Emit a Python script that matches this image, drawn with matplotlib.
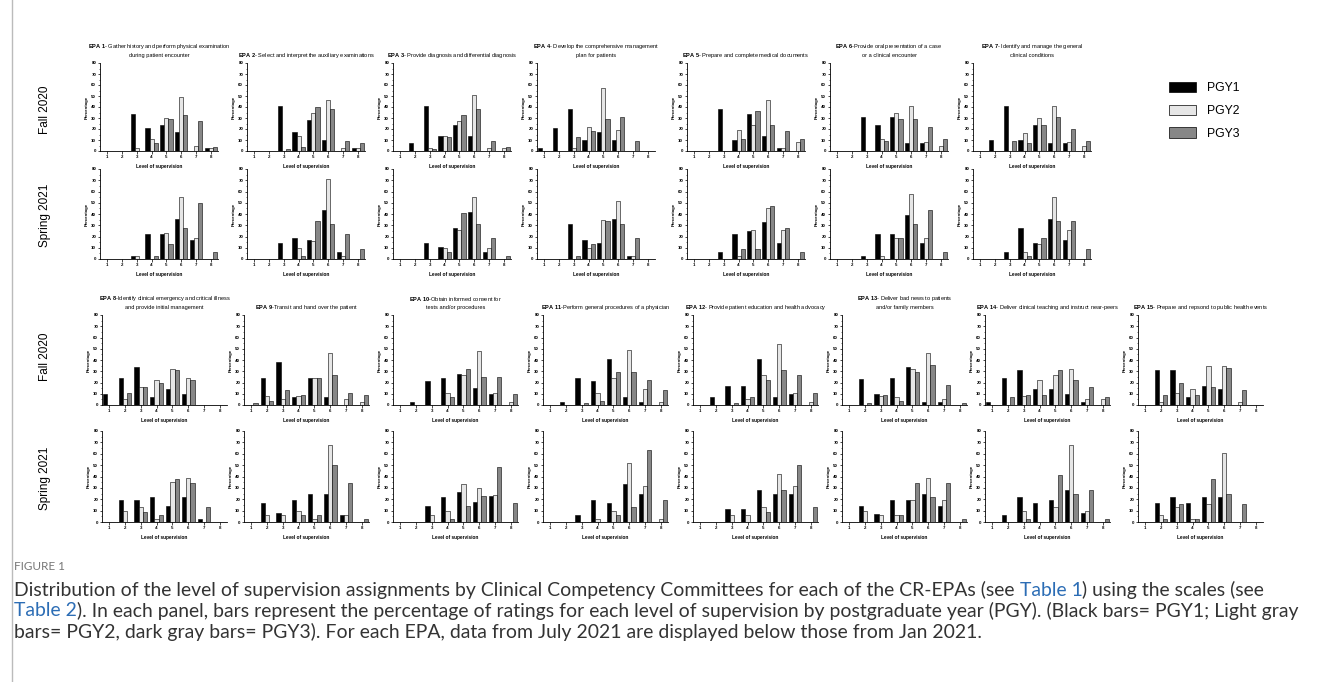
import numpy as np
import matplotlib.pyplot as plt
from matplotlib.patches import Patch
from matplotlib.lines import Line2D

plt.rcParams['font.family'] = ['Liberation Sans', 'DejaVu Sans']
plt.rcParams['mathtext.fontset'] = 'custom'
plt.rcParams['mathtext.rm'] = 'Liberation Sans'
plt.rcParams['mathtext.bf'] = 'Liberation Sans:bold'

# Level of supervision 1..8
levels = [1, 2, 3, 4, 5, 6, 7, 8]

epa_titles = [
    "$\\mathbf{EPA\\ 1}$- Gather history and perform physical examination\nduring patient encounter",
    "$\\mathbf{EPA\\ 2}$- Select and interpret the auxiliary examinations",
    "$\\mathbf{EPA\\ 3}$- Provide diagnosis and differential diagnosis",
    "$\\mathbf{EPA\\ 4}$- Develop the comprehensive management\nplan for patients",
    "$\\mathbf{EPA\\ 5}$- Prepare and complete medical documents",
    "$\\mathbf{EPA\\ 6}$-Provide oral presentation of a case\nor a clinical encounter",
    "$\\mathbf{EPA\\ 7}$- Identify and manage the general\nclinical conditions",
    "$\\mathbf{EPA\\ 8}$-Identify clinical emergency and critical illness\nand provide initial management",
    "$\\mathbf{EPA\\ 9}$-Transit and hand over the patient",
    "$\\mathbf{EPA\\ 10}$-Obtain informed consent for\ntests and/or procedures",
    "$\\mathbf{EPA\\ 11}$-Perform general procedures of a physician",
    "$\\mathbf{EPA\\ 12}$- Provide patient education and health advocacy",
    "$\\mathbf{EPA\\ 13}$- Deliver bad news to patients\nand/or family members",
    "$\\mathbf{EPA\\ 14}$- Deliver clinical teaching and instruct near-peers",
    "$\\mathbf{EPA\\ 15}$- Prepare and repsond to public health events",
]

# Fall 2020 (percent of ratings per level), one row per EPA
fall_pgy1 = [
    [0, 0, 34, 21, 24, 17, 0, 3],
    [0, 0, 41, 17, 28, 10, 0, 3],
    [0, 7, 41, 14, 24, 14, 0, 0],
    [3, 21, 38, 10, 17, 10, 0, 0],
    [0, 0, 38, 10, 34, 14, 3, 0],
    [0, 0, 31, 24, 31, 7, 7, 0],
    [0, 10, 41, 10, 24, 7, 7, 0],
    [10, 24, 34, 7, 14, 10, 0, 0],
    [0, 24, 38, 7, 24, 7, 0, 0],
    [0, 3, 21, 24, 28, 15, 10, 0],
    [0, 3, 24, 21, 41, 7, 3, 0],
    [0, 7, 17, 17, 41, 7, 10, 0],
    [0, 23, 10, 24, 34, 3, 3, 0],
    [3, 24, 31, 14, 14, 10, 3, 0],
    [0, 31, 31, 7, 17, 14, 0, 0],
]
fall_pgy2 = [
    [0, 0, 3, 11, 30, 49, 5, 3],
    [0, 0, 0, 14, 35, 46, 3, 3],
    [0, 0, 3, 14, 27, 51, 3, 3],
    [0, 0, 3, 22, 57, 19, 0, 0],
    [0, 0, 0, 19, 24, 46, 3, 8],
    [0, 0, 0, 11, 35, 41, 8, 5],
    [0, 0, 0, 16, 30, 41, 8, 5],
    [0, 5, 16, 22, 32, 24, 0, 0],
    [0, 8, 5, 8, 24, 46, 5, 3],
    [0, 0, 0, 11, 27, 48, 11, 3],
    [0, 0, 0, 11, 24, 49, 14, 3],
    [0, 0, 0, 5, 27, 54, 11, 3],
    [0, 0, 8, 7, 32, 46, 5, 0],
    [0, 0, 8, 22, 27, 32, 5, 5],
    [0, 3, 11, 14, 35, 35, 3, 0],
]
fall_pgy3 = [
    [0, 0, 0, 7, 29, 33, 27, 4],
    [0, 0, 2, 4, 40, 38, 9, 7],
    [0, 0, 2, 13, 33, 38, 9, 4],
    [0, 0, 13, 18, 29, 31, 9, 0],
    [0, 0, 0, 11, 36, 24, 18, 11],
    [0, 0, 0, 9, 29, 29, 22, 11],
    [0, 0, 9, 7, 24, 31, 20, 9],
    [0, 11, 16, 20, 31, 22, 0, 0],
    [2, 4, 13, 9, 24, 27, 11, 9],
    [0, 0, 0, 7, 32, 25, 25, 10],
    [0, 0, 2, 4, 29, 29, 22, 13],
    [0, 0, 2, 7, 22, 31, 27, 11],
    [0, 2, 9, 4, 29, 36, 18, 2],
    [0, 7, 9, 9, 31, 22, 16, 7],
    [0, 9, 20, 9, 16, 33, 13, 0],
]

# Spring 2021
spring_pgy1 = [
    [0, 0, 3, 22, 22, 36, 17, 0],
    [0, 0, 14, 19, 17, 44, 6, 0],
    [0, 0, 14, 11, 28, 42, 6, 0],
    [0, 0, 31, 17, 14, 36, 3, 0],
    [0, 0, 6, 22, 25, 33, 14, 0],
    [0, 0, 3, 22, 22, 39, 14, 0],
    [0, 0, 6, 28, 14, 36, 17, 0],
    [0, 19, 19, 22, 14, 22, 3, 0],
    [0, 17, 8, 19, 25, 25, 6, 0],
    [0, 0, 14, 22, 26, 18, 23, 0],
    [0, 0, 6, 19, 17, 33, 25, 0],
    [0, 0, 11, 11, 28, 25, 25, 0],
    [0, 14, 7, 19, 19, 25, 14, 0],
    [0, 6, 22, 17, 19, 28, 8, 0],
    [0, 17, 22, 17, 22, 22, 0, 0],
]
spring_pgy2 = [
    [0, 0, 3, 0, 23, 55, 19, 0],
    [0, 0, 0, 10, 16, 71, 3, 0],
    [0, 0, 0, 10, 26, 55, 10, 0],
    [0, 0, 0, 10, 35, 52, 3, 0],
    [0, 0, 0, 3, 26, 45, 26, 0],
    [0, 0, 0, 3, 19, 58, 19, 0],
    [0, 0, 0, 6, 13, 55, 26, 0],
    [0, 10, 13, 3, 35, 39, 0, 0],
    [0, 6, 6, 10, 3, 68, 6, 0],
    [0, 0, 6, 10, 33, 30, 24, 0],
    [0, 0, 0, 3, 10, 52, 32, 3],
    [0, 0, 6, 6, 13, 42, 32, 0],
    [0, 10, 6, 6, 19, 39, 19, 0],
    [0, 0, 10, 0, 13, 68, 10, 0],
    [0, 6, 13, 3, 16, 61, 0, 0],
]
spring_pgy3 = [
    [0, 0, 0, 3, 13, 28, 50, 6],
    [0, 0, 0, 3, 34, 31, 22, 9],
    [0, 0, 0, 6, 41, 31, 19, 3],
    [0, 0, 3, 13, 34, 31, 19, 0],
    [0, 0, 0, 9, 9, 47, 28, 6],
    [0, 0, 0, 0, 19, 31, 44, 6],
    [0, 0, 0, 3, 19, 34, 34, 9],
    [0, 0, 9, 6, 38, 34, 13, 0],
    [0, 0, 0, 6, 6, 50, 34, 3],
    [0, 0, 0, 3, 14, 23, 48, 17],
    [0, 0, 0, 0, 6, 13, 63, 19],
    [0, 0, 0, 0, 9, 28, 50, 13],
    [0, 0, 0, 6, 34, 22, 34, 3],
    [0, 0, 3, 0, 41, 25, 28, 3],
    [0, 3, 16, 3, 38, 25, 16, 0],
]

pgy_names = ['PGY1', 'PGY2', 'PGY3']
pgy_colors = ['#000000', '#e6e6e6', '#878787']

W, H = 1322, 682
fig = plt.figure(figsize=(W / 100, H / 100), dpi=100)


def px_axes(x0, y0, w, h):
    # pixel box (top-left origin) -> figure fraction
    return fig.add_axes([x0 / W, 1 - (y0 + h) / H, w / W, h / H])


def draw_panel(ax, title, v1, v2, v3, show_title):
    x = np.array(levels)
    bw = 0.27
    for off, vals, col in zip([-bw, 0, bw], [v1, v2, v3], pgy_colors):
        ax.bar(x + off, vals, width=bw, color=col, edgecolor='black', linewidth=0.4)
    ax.set_xlim(0.55, 8.45)
    ax.set_ylim(0, 80)
    ax.set_yticks(np.arange(0, 81, 10))
    ax.set_yticks(np.arange(0, 81, 5), minor=True)
    ax.set_xticks(levels)
    for s in ['top', 'right']:
        ax.spines[s].set_visible(False)
    for s in ['left', 'bottom']:
        ax.spines[s].set_linewidth(0.6)
    ax.tick_params(labelsize=3.2, width=0.5, length=1.8, pad=1)
    ax.tick_params(which='minor', width=0.4, length=1.0)
    for lab in ax.get_xticklabels() + ax.get_yticklabels():
        lab.set_fontweight('bold')
    ax.set_ylabel('Percentage', fontsize=3.2, fontweight='bold', labelpad=2)
    ax.set_xlabel('Level of supervision', fontsize=3.4, fontweight='bold', labelpad=4)
    if show_title:
        ax.set_title(title, fontsize=4.1, pad=4, linespacing=1.5)


# top block: EPA 1-7
top_x = [100, 247, 393, 537, 687, 830, 973]
for i, x0 in enumerate(top_x):
    a = px_axes(x0, 63, 118, 88)
    draw_panel(a, epa_titles[i], fall_pgy1[i], fall_pgy2[i], fall_pgy3[i], True)
    b = px_axes(x0, 169, 118, 90)
    draw_panel(b, epa_titles[i], spring_pgy1[i], spring_pgy2[i], spring_pgy3[i], False)

# bottom block: EPA 8-15
bot_x = [102, 244, 393, 543, 693, 842, 985, 1138]
for j, x0 in enumerate(bot_x):
    i = j + 7
    a = px_axes(x0, 315, 125, 90)
    draw_panel(a, epa_titles[i], fall_pgy1[i], fall_pgy2[i], fall_pgy3[i], True)
    b = px_axes(x0, 431, 125, 91)
    draw_panel(b, epa_titles[i], spring_pgy1[i], spring_pgy2[i], spring_pgy3[i], False)

# row labels
for label, yc in [('Fall 2020', 110), ('Spring 2021', 215), ('Fall 2020', 357), ('Spring 2021', 478)]:
    fig.text(45 / W, 1 - yc / H, label, rotation=90, ha='center', va='center', fontsize=8.5)

# legend
handles = [Patch(facecolor=c, edgecolor='black', linewidth=0.5) for c in pgy_colors]
fig.legend(handles, pgy_names, loc='upper left', bbox_to_anchor=(1158 / W, 1 - 71 / H),
           frameon=False, fontsize=8.8, handlelength=2.2, handleheight=0.9,
           labelspacing=0.85, handletextpad=0.9)

# left rule
fig.add_artist(Line2D([12 / W, 12 / W], [0, 1], color='#bbbbbb', linewidth=1.0))

# caption
cap_font = 'Lato'
fig.text(14 / W, 1 - 566 / H, 'FIGURE 1', fontsize=8.5, color='#777777', va='center',
         family=cap_font)

renderer = fig.canvas.get_renderer()
blue = '#2c6db5'
dark = '#333333'

cap1 = [("Distribution of the level of supervision assignments by Clinical Competency Committees for each of the CR-EPAs (see ", dark),
        ("Table 1", blue), (") using the scales (see", dark)]
cap2 = [("Table 2", blue), ("). In each panel, bars represent the percentage of ratings for each level of supervision by postgraduate year (PGY). (Black bars= PGY1; Light gray", dark)]
cap3 = [("bars= PGY2, dark gray bars= PGY3). For each EPA, data from July 2021 are displayed below those from Jan 2021.", dark)]

# fit caption font size so the longest line spans the same width as on the page
widest = 0
for line in [cap1, cap2]:
    probe = fig.text(0, 0, ''.join(s for s, _ in line), fontsize=10, family=cap_font)
    widest = max(widest, probe.get_window_extent(renderer).width)
    probe.remove()
cap_size = 10 * 1284 / widest


def rich_line(yc, parts):
    x = 14 / W
    for s, c in parts:
        t = fig.text(x, 1 - yc / H, s, color=c, fontsize=cap_size, va='center', family=cap_font)
        x += t.get_window_extent(renderer).width / W


rich_line(590, cap1)
rich_line(611, cap2)
rich_line(632, cap3)

fig.savefig('out.png', dpi=100)
